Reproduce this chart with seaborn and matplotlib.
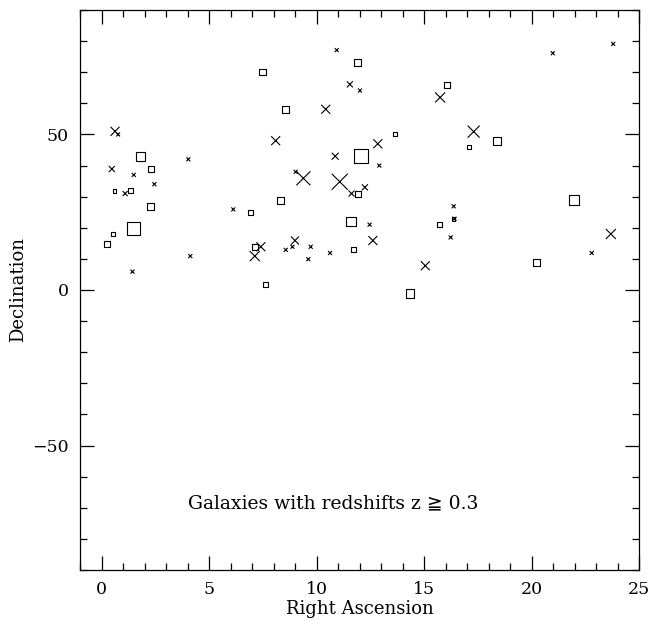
import matplotlib
matplotlib.use("Agg")
import matplotlib.pyplot as plt
import seaborn as sns
import pandas as pd
from matplotlib.ticker import MultipleLocator

# Square-marked galaxies: RA, Dec, marker size (approx. px)
sq_ra   = [11.9, 7.49, 8.54, 1.83, 12.05, 2.29, 0.6, 1.35, 11.91, 8.32, 2.29, 6.93, 11.61,
           1.5, 0.53, 0.25, 7.15, 11.71, 7.64, 16.07, 13.64, 18.39, 17.08, 16.38, 15.71,
           14.34, 21.96, 20.25]
sq_dec  = [73.1, 70.1, 58.1, 43.0, 43.0, 39.0, 31.9, 31.9, 31.0, 28.9, 26.9, 24.9, 22.0,
           19.9, 18.0, 14.9, 13.9, 12.9, 1.8, 66.0, 50.1, 48.0, 46.1, 22.9, 21.0,
           -1.1, 28.9, 8.9]
sq_size = [7, 6.5, 7, 9, 14, 6, 3.5, 5, 6, 7, 7, 4.5, 9.5,
           13, 3.5, 6, 6, 5, 5, 6, 4.5, 8, 4, 3.5, 4.5,
           8.5, 10, 7]

# Cross-marked galaxies
x_ra   = [10.94, 11.55, 12.02, 10.43, 0.63, 0.77, 8.1, 10.87, 4.04, 0.48, 1.5, 9.03,
          9.39, 11.08, 2.46, 1.1, 11.63, 12.25, 6.13, 7.41, 7.13, 9.0, 8.57, 8.88,
          9.73, 9.62, 10.63, 4.13, 1.44, 20.99, 23.8, 15.75, 17.31, 12.85, 12.92,
          16.38, 16.42, 16.24, 12.47, 12.62, 15.06, 22.8, 23.69]
x_dec  = [77.1, 66.1, 64.1, 58.1, 51.0, 50.0, 48.0, 43.0, 42.0, 38.9, 37.0, 38.0,
          35.9, 34.8, 34.0, 31.0, 31.0, 33.0, 25.9, 13.9, 10.9, 15.9, 12.9, 13.9,
          13.9, 9.9, 11.9, 10.9, 5.9, 76.1, 79.1, 61.9, 50.9, 47.0, 40.0,
          26.9, 22.9, 16.9, 21.0, 15.9, 7.8, 11.9, 18.0]
x_size = [4, 6, 4, 9, 9, 4, 9, 7, 4, 6, 4, 4,
          14, 16, 4, 5, 6, 6, 4, 9, 10, 8, 4, 4,
          4, 4, 4, 4, 4, 4, 4, 10, 12, 9, 4,
          4, 4, 4, 4, 9, 9, 4, 10]

y_ticks = [-50, 0, 50]
y_tick_labels = ["\u221250", "0", "50"]

df_sq = pd.DataFrame({"ra": sq_ra, "dec": sq_dec, "sz": sq_size})
df_x = pd.DataFrame({"ra": x_ra, "dec": x_dec, "sz": x_size})

sns.set_theme(style="ticks")
plt.rcParams["font.family"] = ["DejaVu Serif", "DejaVu Sans", "Noto Sans CJK JP"]
plt.rcParams["text.color"] = "black"
plt.rcParams["axes.labelcolor"] = "black"
plt.rcParams["xtick.color"] = "black"
plt.rcParams["ytick.color"] = "black"

fig = plt.figure(figsize=(6.49, 6.20), dpi=100)
ax = fig.add_axes([80/649, 50/620, 559/649, 560/620])

px2pt = 72/100
sq_map = {v: (v*px2pt)**2 for v in sorted(set(sq_size))}
x_map = {v: (v*px2pt)**2 for v in sorted(set(x_size))}

sns.scatterplot(data=df_sq, x="ra", y="dec", size="sz", sizes=sq_map, marker="s",
                facecolor="none", edgecolor="black", linewidth=0.8, legend=False, ax=ax)
sns.scatterplot(data=df_x, x="ra", y="dec", size="sz", sizes=x_map, marker="x",
                color="black", linewidth=0.8, legend=False, ax=ax)

ax.set_xlim(-1, 25)
ax.set_ylim(-90, 90)
ax.xaxis.set_major_locator(MultipleLocator(5))
ax.xaxis.set_minor_locator(MultipleLocator(1))
ax.yaxis.set_minor_locator(MultipleLocator(10))
ax.set_yticks(y_ticks)
ax.set_yticklabels(y_tick_labels)
ax.tick_params(which="both", direction="in", top=True, right=True, colors="black",
               labelcolor="black", labelsize=12.5, width=0.9)
ax.tick_params(which="major", length=10, pad=8)
ax.tick_params(which="minor", length=5)
for sp in ax.spines.values():
    sp.set_color("black")
    sp.set_linewidth(0.9)

ax.set_xlabel("Right Ascension", fontsize=13, labelpad=1, color="black")
ax.set_ylabel("Declination", fontsize=13, labelpad=4, color="black")
ax.text(4.0, -68.7, "Galaxies with redshifts z \u2267 0.3", fontsize=13.5,
        ha="left", va="center", color="black")

fig.savefig("out.png", dpi=100)
